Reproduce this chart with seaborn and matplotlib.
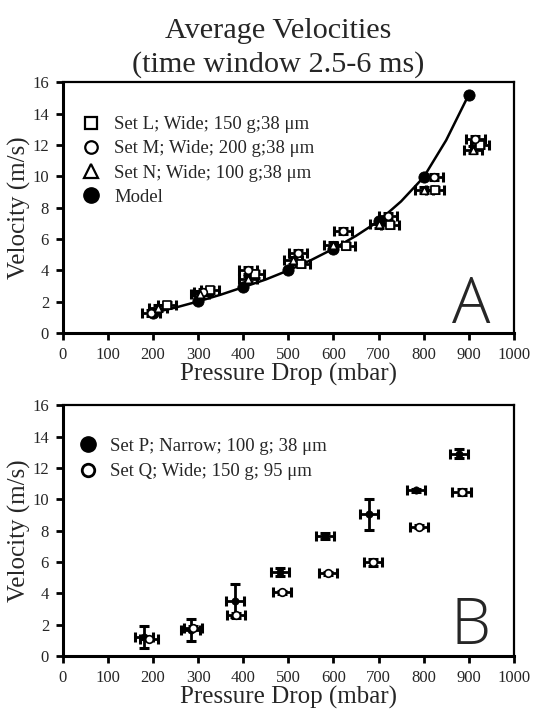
import matplotlib
matplotlib.use("Agg")
import matplotlib.pyplot as plt
import seaborn as sns
from matplotlib.lines import Line2D

# panel A: model and three wide-channel sets
model_p = [200, 300, 400, 500, 600, 700, 800, 900]
model_v = [1.3, 2.02, 2.93, 4.0, 5.38, 7.14, 9.94, 15.2]
# model curve
curve_p = [200, 250, 300, 350, 400, 450, 500, 550, 600, 650, 700, 750, 800, 850, 900]
curve_v = [1.3, 1.63, 2.02, 2.45, 2.93, 3.42, 4.0, 4.65, 5.38, 6.2, 7.14, 8.4, 9.94, 12.3, 15.2]

set_l_p = [230, 326, 426, 527, 627, 726, 826, 924]
set_l_v = [1.8, 2.76, 3.74, 4.42, 5.55, 6.91, 9.14, 12.0]
set_m_p = [195, 310, 411, 522, 622, 722, 822, 915]
set_m_v = [1.3, 2.6, 4.0, 5.1, 6.52, 7.46, 9.94, 12.4]
set_n_p = [210, 305, 411, 511, 600, 701, 801, 910]
set_n_v = [1.6, 2.5, 3.47, 4.63, 5.59, 6.93, 9.14, 11.7]
xerr_a = 20
yerr_a = 0.2

# panel B: narrow vs wide
set_p_p = [180, 283, 382, 482, 582, 679, 783, 878]
set_p_v = [1.2, 1.66, 3.53, 5.38, 7.67, 9.05, 10.58, 12.92]
set_p_yerr = [0.7, 0.7, 1.05, 0.25, 0.2, 1.0, 0.1, 0.3]
set_q_p = [190, 288, 384, 486, 587, 688, 790, 884]
set_q_v = [1.1, 1.81, 2.61, 4.08, 5.27, 5.97, 8.24, 10.48]
set_q_yerr = [0.1, 0.1, 0.15, 0.1, 0.1, 0.2, 0.1, 0.2]
xerr_b = 20

labels_a = ["Set L; Wide; 150 g;38 \u03bcm", "Set M; Wide; 200 g;38 \u03bcm",
            "Set N; Wide; 100 g;38 \u03bcm", "Model"]
labels_b = ["Set P; Narrow; 100 g; 38 \u03bcm", "Set Q; Wide; 150 g; 95 \u03bcm"]

sns.set_theme(style="ticks")
plt.rcParams['font.family'] = ['Liberation Serif', 'DejaVu Serif']

fig = plt.figure(figsize=(5.33, 7.21), dpi=100)
axA = fig.add_axes([0.118, 0.538, 0.846, 0.348])
axB = fig.add_axes([0.118, 0.090, 0.846, 0.348])

fig.text(0.522, 0.957, "Average Velocities", ha='center', va='center', fontsize=21.8)
fig.text(0.522, 0.910, "(time window 2.5-6 ms)", ha='center', va='center', fontsize=21.8)

ebkw = dict(fmt='none', ecolor='black', elinewidth=2, capsize=3.5, capthick=2.2, zorder=2)

# panel A
sns.lineplot(x=curve_p, y=curve_v, ax=axA, color='black', lw=1.8, zorder=1)
sns.scatterplot(x=model_p, y=model_v, ax=axA, color='black', s=65, marker='o',
                edgecolor='black', zorder=3)
for p, v, m in [(set_l_p, set_l_v, 's'), (set_m_p, set_m_v, 'o'), (set_n_p, set_n_v, '^')]:
    axA.errorbar(p, v, xerr=xerr_a, yerr=yerr_a, **ebkw)
    sns.scatterplot(x=p, y=v, ax=axA, marker=m, s=30, facecolor='white',
                    edgecolor='black', linewidth=1.2, zorder=4)

handles_a = [Line2D([], [], ls='none', marker='s', ms=8.5, mfc='white', mec='black', mew=1.6),
             Line2D([], [], ls='none', marker='o', ms=9, mfc='white', mec='black', mew=1.6),
             Line2D([], [], ls='none', marker='^', ms=10, mfc='white', mec='black', mew=1.6),
             Line2D([], [], ls='none', marker='o', ms=11, mfc='black', mec='black')]
axA.legend(handles_a, labels_a, loc='upper left', bbox_to_anchor=(0.025, 0.895), frameon=False,
           fontsize=13.5, handlelength=1.0, handletextpad=0.75, labelspacing=0.38, borderaxespad=0)
axA.text(0.905, 0.04, "A", transform=axA.transAxes, ha='center', va='baseline',
         fontsize=46, family='Open Sans', fontweight='light')

# panel B
axB.errorbar(set_p_p, set_p_v, xerr=xerr_b, yerr=set_p_yerr, **ebkw)
sns.scatterplot(x=set_p_p, y=set_p_v, ax=axB, marker='o', s=28, color='black',
                edgecolor='black', zorder=4)
axB.errorbar(set_q_p, set_q_v, xerr=xerr_b, yerr=set_q_yerr, **ebkw)
sns.scatterplot(x=set_q_p, y=set_q_v, ax=axB, marker='o', s=30, facecolor='white',
                edgecolor='black', linewidth=1.2, zorder=4)
handles_b = [Line2D([], [], ls='none', marker='o', ms=11, mfc='black', mec='black'),
             Line2D([], [], ls='none', marker='o', ms=9, mfc='white', mec='black', mew=2)]
axB.legend(handles_b, labels_b, loc='upper left', bbox_to_anchor=(0.018, 0.9), frameon=False,
           fontsize=13.5, handlelength=1.0, handletextpad=0.7, labelspacing=0.45, borderaxespad=0)
axB.text(0.905, 0.05, "B", transform=axB.transAxes, ha='center', va='baseline',
         fontsize=46, family='Open Sans', fontweight='light')

for ax in (axA, axB):
    ax.set_xlim(0, 1000)
    ax.set_ylim(0, 16)
    ax.set_xticks(range(0, 1001, 100))
    ax.set_yticks(range(0, 17, 2))
    ax.set_xlabel("Pressure Drop (mbar)", fontsize=18, labelpad=0)
    ax.set_ylabel("Velocity (m/s)", fontsize=18, labelpad=1)
    ax.tick_params(direction='out', length=5, width=2, labelsize=12, pad=5, color='black')
    for side in ('left', 'bottom'):
        ax.spines[side].set_linewidth(2.2)
    for side in ('top', 'right'):
        ax.spines[side].set_linewidth(1.6)
    for s in ax.spines.values():
        s.set_color('black')

fig.savefig("out.png", dpi=100)
